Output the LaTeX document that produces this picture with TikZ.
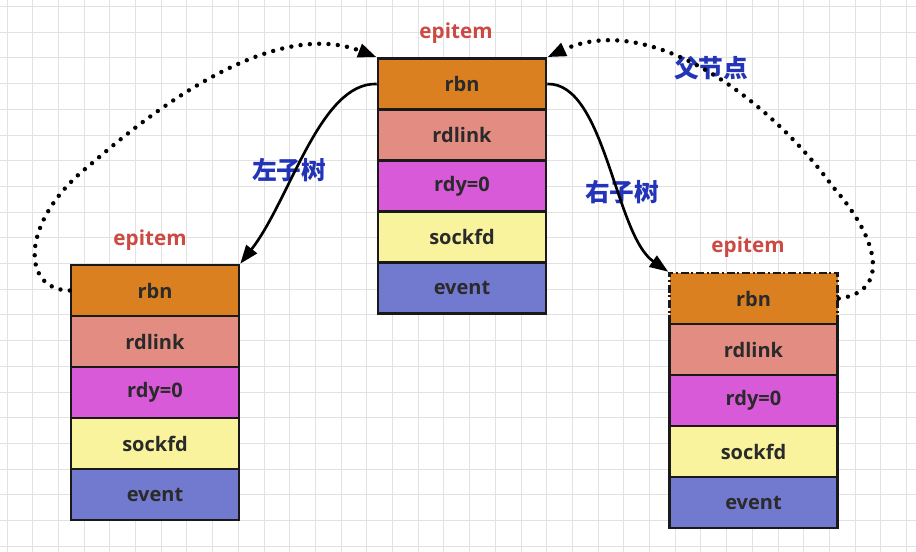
\documentclass[tikz,border=0pt]{standalone}
\usepackage{fontspec}
\setmainfont{Open Sans}
\newfontfamily\cjk{Noto Sans CJK SC}
\usetikzlibrary{arrows.meta}
\definecolor{cRbn}{HTML}{DA8020}
\definecolor{cLink}{HTML}{E38C82}
\definecolor{cRdy}{HTML}{D85AD8}
\definecolor{cSock}{HTML}{F8F39C}
\definecolor{cEvent}{HTML}{727ACF}
\definecolor{cRed}{HTML}{CC4A44}
\definecolor{cBlue}{HTML}{2434B8}
\definecolor{cText}{HTML}{2A2A2A}
\definecolor{cGrid}{HTML}{E2E2E2}
\tikzset{
  cell/.style={draw=black!90, line width=1.9pt, minimum width=126pt, minimum height=38.25pt,
    inner sep=0pt, font=\fontsize{15}{17}\selectfont\bfseries, text=cText},
  toplabel/.style={font=\fontsize{15.5}{17}\selectfont\bfseries, text=cRed},
  cnlabel/.style={font=\cjk\fontsize{18.5}{20}\selectfont\bfseries, text=cBlue},
  solidarr/.style={line width=2pt, -{Triangle[length=14pt,width=10pt]}},
  dotarr/.style={line width=3.3pt, line cap=round, dash pattern=on 0pt off 7pt,
    -{Triangle[length=14pt,width=10pt]}}
}
\begin{document}
\begin{tikzpicture}[x=0.75pt,y=-0.75pt]
\useasboundingbox (0,0) rectangle (916,552);
\fill[white] (0,0) rectangle (916,552);
% grid
\foreach \i in {0,...,35} {
  \pgfmathsetmacro\gx{7+25.7*\i}
  \draw[cGrid, line width=0.7pt] (\gx,0) -- (\gx,552);
}
\foreach \i in {0,...,21} {
  \pgfmathsetmacro\gy{6.5+25.7*\i}
  \draw[cGrid, line width=0.7pt] (0,\gy) -- (916,\gy);
}
% center column
\node[cell, fill=cRbn] (c1) at (462,84) {rbn};
\node[cell, fill=cLink] (c2) at (462,135) {rdlink};
\node[cell, fill=cRdy] (c3) at (462,186) {rdy=0};
\node[cell, fill=cSock] (c4) at (462,237) {sockfd};
\node[cell, fill=cEvent] (c5) at (462,288) {event};
% left column
\node[cell, fill=cRbn] (l1) at (155,290.5) {rbn};
\node[cell, fill=cLink] (l2) at (155,341.5) {rdlink};
\node[cell, fill=cRdy] (l3) at (155,392.5) {rdy=0};
\node[cell, fill=cSock] (l4) at (155,443.5) {sockfd};
\node[cell, fill=cEvent] (l5) at (155,494.5) {event};
% right column
\node[cell, fill=cRbn, dash pattern=on 6pt off 2pt on 1.5pt off 2pt] (r1) at (753.5,298.5) {rbn};
\node[cell, fill=cLink] (r2) at (753.5,349.5) {rdlink};
\node[cell, fill=cRdy] (r3) at (753.5,400.5) {rdy=0};
\node[cell, fill=cSock] (r4) at (753.5,451.5) {sockfd};
\node[cell, fill=cEvent] (r5) at (753.5,502.5) {event};
% labels
\node[toplabel] (e1) at (456,33) {epitem};
\node[toplabel] (e2) at (150,240) {epitem};
\node[toplabel] (e3) at (748,247) {epitem};
\node[cnlabel] (t1) at (289,170) {左子树};
\node[cnlabel] (t2) at (622,192) {右子树};
\node[cnlabel] (t3) at (711,68) {父节点};
% solid child arrows
\draw[solidarr] (c1.west) .. controls (320,82) and (290,200) .. (l1.north east);
\draw[solidarr] (c1.east) .. controls (605,82) and (615,235) .. (r1.north west);
% dotted parent arrows
\draw[dotarr] (l1.west) .. controls (20,290) and (20,220) .. (90,165)
  .. controls (170,95) and (280,20) .. (c1.north west);
\draw[dotarr] (r1.east) .. controls (890,292) and (880,240) .. (833,187)
  .. controls (770,100) and (650,10) .. (c1.north east);
\end{tikzpicture}
\end{document}
